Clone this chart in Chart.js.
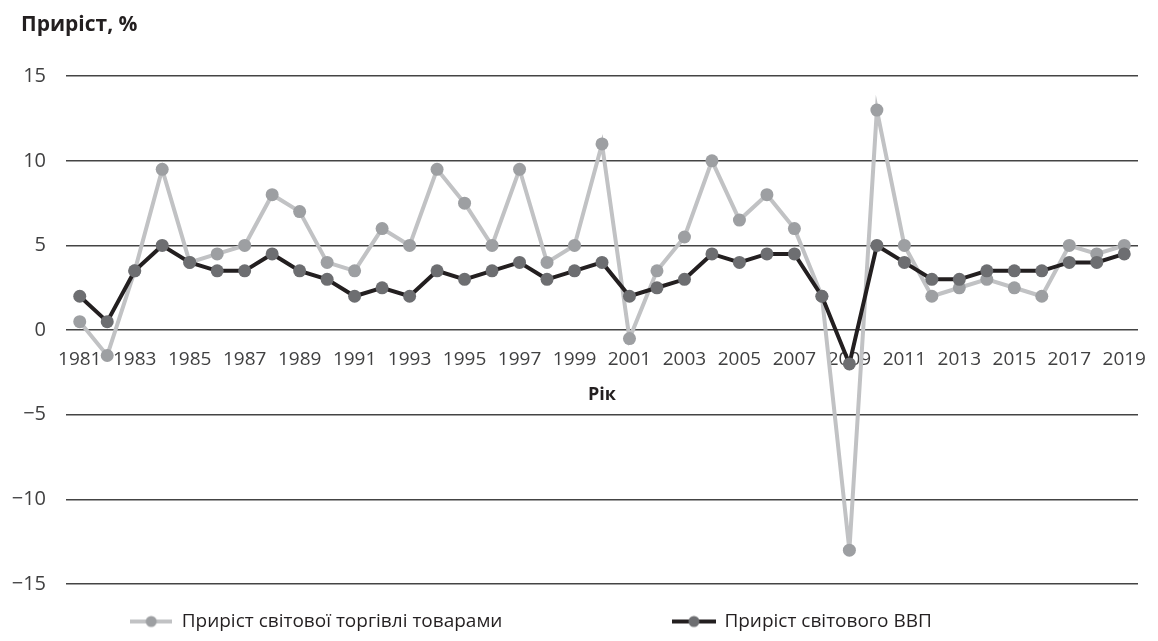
<!DOCTYPE html>
<html>
<head>
<meta charset="utf-8">
<script src="https://cdn.jsdelivr.net/npm/chart.js@4.4.1/dist/chart.umd.min.js"></script>
<style>
  html, body { margin: 0; padding: 0; background: #fff; }
</style>
</head>
<body>
<canvas id="mychart" width="1158" height="641"></canvas>
<script>
// roky (x-os)
var years = ["1981", "1982", "1983", "1984", "1985", "1986", "1987", "1988", "1989", "1990",
             "1991", "1992", "1993", "1994", "1995", "1996", "1997", "1998", "1999", "2000",
             "2001", "2002", "2003", "2004", "2005", "2006", "2007", "2008", "2009", "2010",
             "2011", "2012", "2013", "2014", "2015", "2016", "2017", "2018", "2019"];

// Приріст світової торгівлі товарами, %
var tradeGrowth = [0.5, -1.5, 3.5, 9.5, 4, 4.5, 5, 8, 7, 4,
                   3.5, 6, 5, 9.5, 7.5, 5, 9.5, 4, 5, 11,
                   -0.5, 3.5, 5.5, 10, 6.5, 8, 6, 2, -13, 13,
                   5, 2, 2.5, 3, 2.5, 2, 5, 4.5, 5];

// Приріст світового ВВП, %
var gdpGrowth = [2, 0.5, 3.5, 5, 4, 3.5, 3.5, 4.5, 3.5, 3,
                 2, 2.5, 2, 3.5, 3, 3.5, 4, 3, 3.5, 4,
                 2, 2.5, 3, 4.5, 4, 4.5, 4.5, 2, -2, 5,
                 4, 3, 3, 3.5, 3.5, 3.5, 4, 4, 4.5];

var seriesNames = ["Приріст світової торгівлі товарами", "Приріст світового ВВП"];
var yMin = -15, yMax = 15, yStep = 5;

var fontFam = "'Open Sans', 'Noto Sans', sans-serif";
Chart.defaults.font.family = fontFam;

// mala ikonka do legendy: cara + kolecko
function makeIcon(lineColor, dotColor, w) {
    var c = document.createElement("canvas");
    c.width = w; c.height = 14;
    var x = c.getContext("2d");
    x.strokeStyle = lineColor;
    x.lineWidth = 4;
    x.beginPath(); x.moveTo(0, 7); x.lineTo(w, 7); x.stroke();
    x.fillStyle = dotColor;
    x.beginPath(); x.arc(w / 2, 7, 5.5, 0, Math.PI * 2); x.fill();
    return c;
}
var legendIcons = [makeIcon("#c1c2c4", "#9d9fa2", 42), makeIcon("#231f20", "#6d6e71", 44)];
var EM = "\u2003", EN = "\u2002";
var legendPad = [EM.repeat(7) + EN, EM.repeat(4)];

var canvas = document.getElementById("mychart");
var mychart = new Chart(canvas, {
    type: "line",
    data: {
        labels: years,
        datasets: [
            {
                label: seriesNames[0],
                data: tradeGrowth,
                borderColor: "#c1c2c4",
                borderWidth: 4,
                pointBackgroundColor: "#9d9fa2",
                pointBorderWidth: 0,
                pointRadius: 6.5,
                tension: 0,
                order: 1
            },
            {
                label: seriesNames[1],
                data: gdpGrowth,
                borderColor: "#231f20",
                borderWidth: 4,
                pointBackgroundColor: "#6d6e71",
                pointBorderWidth: 0,
                pointRadius: 6.5,
                tension: 0,
                order: 0
            }
        ]
    },
    options: {
        responsive: false,
        animation: false,
        devicePixelRatio: 1,
        layout: { padding: { left: 0, right: 20, top: 0, bottom: 0 } },
        plugins: {
            tooltip: { enabled: false },
            title: {
                display: true,
                text: EM + "Приріст, %",
                align: "start",
                color: "#231f20",
                font: { size: 21, weight: "bold", family: fontFam },
                padding: { top: 12, bottom: 39 }
            },
            legend: {
                position: "bottom",
                align: "center",
                labels: {
                    usePointStyle: true,
                    pointStyleWidth: 42,
                    padding: 28,
                    color: "#231f20",
                    font: { size: 19, family: fontFam },
                    generateLabels: function (chart) {
                        return chart.data.datasets.map(function (ds, i) {
                            return {
                                text: ds.label + legendPad[i],
                                pointStyle: legendIcons[i],
                                fillStyle: "rgba(0,0,0,0)",
                                strokeStyle: "rgba(0,0,0,0)",
                                lineWidth: 0,
                                fontColor: "#231f20",
                                hidden: false,
                                datasetIndex: i
                            };
                        });
                    }
                }
            }
        },
        scales: {
            x: {
                type: "category",
                position: { y: 0 },
                offset: true,
                grid: { display: false, drawTicks: false },
                border: { display: false },
                afterFit: function (scale) { scale.paddingLeft = 0; scale.paddingRight = 0; },
                ticks: {
                    autoSkip: false,
                    maxRotation: 0,
                    padding: 18,
                    color: "#404041",
                    font: { size: 19 },
                    callback: function (val, idx) {
                        return idx % 2 === 0 ? this.getLabelForValue(val) : "";
                    }
                },
                title: {
                    display: true,
                    text: "Рік",
                    color: "#231f20",
                    font: { size: 18, weight: "bold" },
                    padding: { top: -5, bottom: 0 }
                }
            },
            y: {
                min: yMin,
                max: yMax,
                grid: { color: "#444444", lineWidth: 1.5, drawTicks: false },
                border: { display: false },
                afterFit: function (scale) { scale.width = 66; },
                ticks: {
                    stepSize: yStep,
                    padding: 20,
                    color: "#404041",
                    font: { size: 20 },
                    callback: function (v) { return v < 0 ? "\u2212" + Math.abs(v) : String(v); }
                }
            }
        }
    }
});
</script>
</body>
</html>
